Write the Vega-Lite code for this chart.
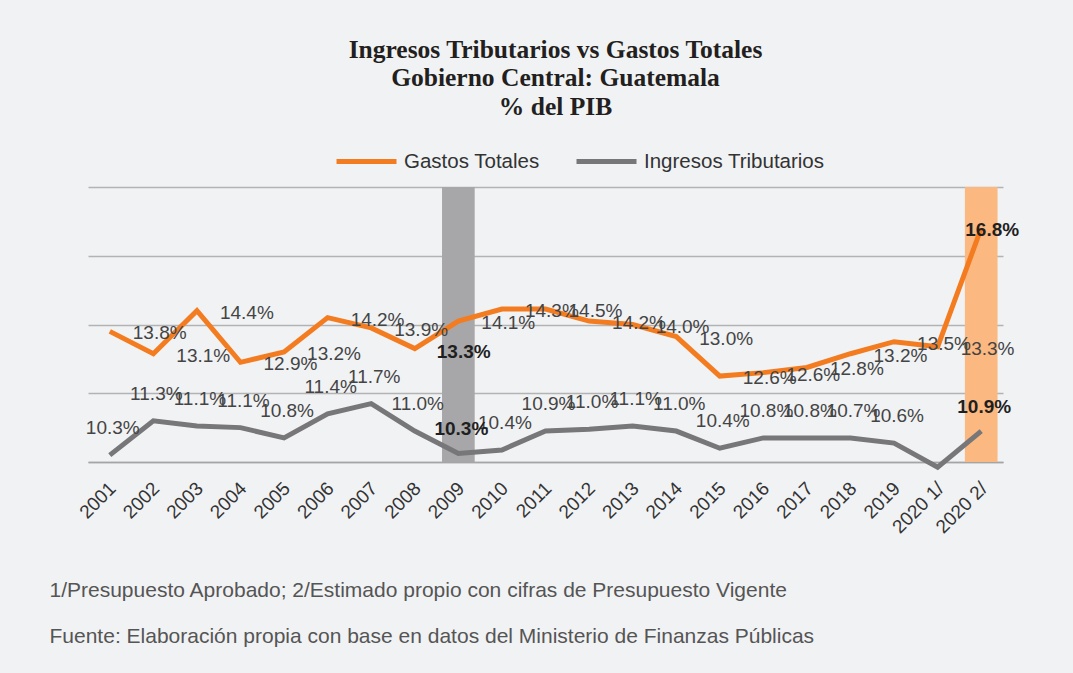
{
  "$schema": "https://vega.github.io/schema/vega-lite/v6.json",
  "width": 915,
  "height": 275,
  "autosize": {"type": "none"},
  "padding": {"left": 88, "top": 187, "right": 70, "bottom": 211},
  "background": "#f1f2f4",
  "config": {"view": {"stroke": null}, "font": "Liberation Sans"},
  "title": {
    "text": ["Ingresos Tributarios vs Gastos Totales", "Gobierno Central: Guatemala", "% del PIB"],
    "font": "Liberation Serif",
    "fontSize": 25.5,
    "fontWeight": "bold",
    "color": "#231f20",
    "lineHeight": 28.5,
    "anchor": "middle",
    "frame": "group",
    "dx": 10,
    "offset": 9
  },
  "datasets": {
    "serie": [
      {"anio": "2001", "serie": "Gastos Totales", "valor": 13.8, "etiqueta": "13.8%", "destacado": false},
      {"anio": "2002", "serie": "Gastos Totales", "valor": 13.15, "etiqueta": "13.1%", "destacado": false},
      {"anio": "2003", "serie": "Gastos Totales", "valor": 14.4, "etiqueta": "14.4%", "destacado": false},
      {"anio": "2004", "serie": "Gastos Totales", "valor": 12.9, "etiqueta": "12.9%", "destacado": false},
      {"anio": "2005", "serie": "Gastos Totales", "valor": 13.2, "etiqueta": "13.2%", "destacado": false},
      {"anio": "2006", "serie": "Gastos Totales", "valor": 14.2, "etiqueta": "14.2%", "destacado": false},
      {"anio": "2007", "serie": "Gastos Totales", "valor": 13.9, "etiqueta": "13.9%", "destacado": false},
      {"anio": "2008", "serie": "Gastos Totales", "valor": 13.3, "etiqueta": "13.3%", "destacado": true},
      {"anio": "2009", "serie": "Gastos Totales", "valor": 14.1, "etiqueta": "14.1%", "destacado": false},
      {"anio": "2010", "serie": "Gastos Totales", "valor": 14.45, "etiqueta": "14.3%", "destacado": false},
      {"anio": "2011", "serie": "Gastos Totales", "valor": 14.45, "etiqueta": "14.5%", "destacado": false},
      {"anio": "2012", "serie": "Gastos Totales", "valor": 14.1, "etiqueta": "14.2%", "destacado": false},
      {"anio": "2013", "serie": "Gastos Totales", "valor": 14.0, "etiqueta": "14.0%", "destacado": false},
      {"anio": "2014", "serie": "Gastos Totales", "valor": 13.65, "etiqueta": "13.0%", "destacado": false},
      {"anio": "2015", "serie": "Gastos Totales", "valor": 12.5, "etiqueta": "12.6%", "destacado": false},
      {"anio": "2016", "serie": "Gastos Totales", "valor": 12.6, "etiqueta": "12.6%", "destacado": false},
      {"anio": "2017", "serie": "Gastos Totales", "valor": 12.75, "etiqueta": "12.8%", "destacado": false},
      {"anio": "2018", "serie": "Gastos Totales", "valor": 13.15, "etiqueta": "13.2%", "destacado": false},
      {"anio": "2019", "serie": "Gastos Totales", "valor": 13.5, "etiqueta": "13.5%", "destacado": false},
      {"anio": "2020 1/", "serie": "Gastos Totales", "valor": 13.35, "etiqueta": "13.3%", "destacado": false},
      {"anio": "2020 2/", "serie": "Gastos Totales", "valor": 16.8, "etiqueta": "16.8%", "destacado": true},
      {"anio": "2001", "serie": "Ingresos Tributarios", "valor": 10.2, "etiqueta": "10.3%", "destacado": false},
      {"anio": "2002", "serie": "Ingresos Tributarios", "valor": 11.2, "etiqueta": "11.3%", "destacado": false},
      {"anio": "2003", "serie": "Ingresos Tributarios", "valor": 11.05, "etiqueta": "11.1%", "destacado": false},
      {"anio": "2004", "serie": "Ingresos Tributarios", "valor": 11.0, "etiqueta": "11.1%", "destacado": false},
      {"anio": "2005", "serie": "Ingresos Tributarios", "valor": 10.7, "etiqueta": "10.8%", "destacado": false},
      {"anio": "2006", "serie": "Ingresos Tributarios", "valor": 11.4, "etiqueta": "11.4%", "destacado": false},
      {"anio": "2007", "serie": "Ingresos Tributarios", "valor": 11.7, "etiqueta": "11.7%", "destacado": false},
      {"anio": "2008", "serie": "Ingresos Tributarios", "valor": 10.9, "etiqueta": "11.0%", "destacado": false},
      {"anio": "2009", "serie": "Ingresos Tributarios", "valor": 10.25, "etiqueta": "10.3%", "destacado": true},
      {"anio": "2010", "serie": "Ingresos Tributarios", "valor": 10.35, "etiqueta": "10.4%", "destacado": false},
      {"anio": "2011", "serie": "Ingresos Tributarios", "valor": 10.9, "etiqueta": "10.9%", "destacado": false},
      {"anio": "2012", "serie": "Ingresos Tributarios", "valor": 10.95, "etiqueta": "11.0%", "destacado": false},
      {"anio": "2013", "serie": "Ingresos Tributarios", "valor": 11.05, "etiqueta": "11.1%", "destacado": false},
      {"anio": "2014", "serie": "Ingresos Tributarios", "valor": 10.9, "etiqueta": "11.0%", "destacado": false},
      {"anio": "2015", "serie": "Ingresos Tributarios", "valor": 10.4, "etiqueta": "10.4%", "destacado": false},
      {"anio": "2016", "serie": "Ingresos Tributarios", "valor": 10.7, "etiqueta": "10.8%", "destacado": false},
      {"anio": "2017", "serie": "Ingresos Tributarios", "valor": 10.7, "etiqueta": "10.8%", "destacado": false},
      {"anio": "2018", "serie": "Ingresos Tributarios", "valor": 10.7, "etiqueta": "10.7%", "destacado": false},
      {"anio": "2019", "serie": "Ingresos Tributarios", "valor": 10.55, "etiqueta": "10.6%", "destacado": false},
      {"anio": "2020 1/", "serie": "Ingresos Tributarios", "valor": 9.85, "etiqueta": null, "destacado": false},
      {"anio": "2020 2/", "serie": "Ingresos Tributarios", "valor": 10.9, "etiqueta": "10.9%", "destacado": true}
    ],
    "resaltes": [
      {"anio": "2009", "tipo": "crisis"},
      {"anio": "2020 2/", "tipo": "estimado"}
    ]
  },
  "encoding": {
    "x": {
      "field": "anio",
      "type": "ordinal",
      "scale": {
        "type": "band",
        "domain": ["2001", "2002", "2003", "2004", "2005", "2006", "2007", "2008", "2009", "2010", "2011", "2012", "2013", "2014", "2015", "2016", "2017", "2018", "2019", "2020 1/", "2020 2/"],
        "paddingInner": 0,
        "paddingOuter": 0
      },
      "axis": {
        "title": ["1/Presupuesto Aprobado; 2/Estimado propio con cifras de Presupuesto Vigente", "Fuente: Elaboración propia con base en datos del Ministerio de Finanzas Públicas"],
        "titleAnchor": "start",
        "titleAlign": "left",
        "titleBaseline": "alphabetic",
        "titleX": -39,
        "titleY": 134,
        "titleFont": "Liberation Sans",
        "titleFontSize": 21,
        "titleFontWeight": "normal",
        "titleColor": "#555555",
        "titleLineHeight": 46,
        "labelAngle": -45,
        "labelAlign": "right",
        "labelBaseline": "middle",
        "labelPadding": 23,
        "labelOffset": 3,
        "labelFont": "Liberation Sans",
        "labelFontSize": 19,
        "labelColor": "#333333",
        "ticks": false,
        "grid": false,
        "domainColor": "#a5a5a5",
        "domainWidth": 1.5
      }
    }
  },
  "layer": [
    {
      "data": {"name": "resaltes"},
      "mark": {"type": "bar", "width": {"band": 0.75}},
      "encoding": {
        "y": {"datum": 18, "type": "quantitative"},
        "y2": {"datum": 10},
        "color": {"condition": {"test": "datum.tipo === 'crisis'", "value": "#a7a7a9"}, "value": "#fbb880"}
      }
    },
    {
      "data": {"name": "serie"},
      "mark": {"type": "line", "strokeWidth": 5},
      "encoding": {
        "y": {
          "field": "valor",
          "type": "quantitative",
          "scale": {"domain": [10, 18], "nice": false, "zero": false},
          "axis": {"title": null, "labels": false, "ticks": false, "domain": false, "grid": true, "gridColor": "#b3b3b3", "gridWidth": 1.5, "values": [10, 11, 12, 13, 14, 15, 16, 17, 18]}
        },
        "color": {
          "field": "serie",
          "type": "nominal",
          "scale": {"domain": ["Gastos Totales", "Ingresos Tributarios"], "range": ["#f47c20", "#77777a"]},
          "legend": {
            "orient": "none",
            "legendX": 246,
            "legendY": -58,
            "direction": "horizontal",
            "title": null,
            "symbolType": "stroke",
            "symbolSize": 3600,
            "symbolStrokeWidth": 5,
            "labelFont": "Liberation Sans",
            "labelFontSize": 20.5,
            "labelColor": "#333333",
            "labelLimit": 400,
            "labelOffset": 5,
            "columnPadding": 26
          }
        }
      }
    },
    {
      "data": {"name": "serie"},
      "transform": [{"filter": "datum.serie === 'Gastos Totales' && !datum.destacado"}],
      "mark": {"type": "text", "align": "left", "baseline": "middle", "dx": 23, "dy": 2, "fontSize": 19, "color": "#444444"},
      "encoding": {"y": {"field": "valor", "type": "quantitative"}, "text": {"field": "etiqueta"}}
    },
    {
      "data": {"name": "serie"},
      "transform": [{"filter": "datum.serie === 'Gastos Totales' && datum.destacado && datum.anio === '2008'"}],
      "mark": {"type": "text", "align": "left", "baseline": "middle", "dx": 22, "dy": 3, "fontSize": 19, "fontWeight": "bold", "color": "#1f1f1f"},
      "encoding": {"y": {"field": "valor", "type": "quantitative"}, "text": {"field": "etiqueta"}}
    },
    {
      "data": {"name": "serie"},
      "transform": [{"filter": "datum.serie === 'Gastos Totales' && datum.destacado && datum.anio === '2020 2/'"}],
      "mark": {"type": "text", "align": "center", "baseline": "middle", "dx": 11, "dy": 2, "fontSize": 19, "fontWeight": "bold", "color": "#1f1f1f"},
      "encoding": {"y": {"field": "valor", "type": "quantitative"}, "text": {"field": "etiqueta"}}
    },
    {
      "data": {"name": "serie"},
      "transform": [{"filter": "datum.serie === 'Ingresos Tributarios' && !datum.destacado && datum.etiqueta != null"}],
      "mark": {"type": "text", "align": "center", "baseline": "middle", "dx": 3, "dy": -27, "fontSize": 19, "color": "#444444"},
      "encoding": {"y": {"field": "valor", "type": "quantitative"}, "text": {"field": "etiqueta"}}
    },
    {
      "data": {"name": "serie"},
      "transform": [{"filter": "datum.serie === 'Ingresos Tributarios' && datum.destacado"}],
      "mark": {"type": "text", "align": "center", "baseline": "middle", "dx": 3, "dy": -24, "fontSize": 19, "fontWeight": "bold", "color": "#1f1f1f"},
      "encoding": {"y": {"field": "valor", "type": "quantitative"}, "text": {"field": "etiqueta"}}
    }
  ]
}
